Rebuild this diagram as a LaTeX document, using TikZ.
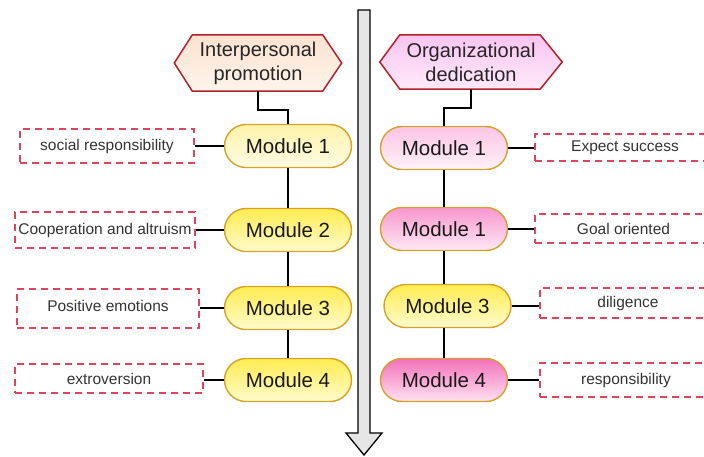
\documentclass[tikz,border=0pt]{standalone}
\usepackage{fontspec}
\setmainfont{Liberation Sans}
\usetikzlibrary{backgrounds}

\definecolor{hexline}{HTML}{B3202A}
\definecolor{pillline}{HTML}{D4A22A}
\definecolor{dashred}{HTML}{E0445C}
\definecolor{labeltext}{HTML}{333333}
\definecolor{arrowfill}{HTML}{E6E6E6}

\tikzset{
  pill/.style={rectangle, rounded corners=21.5pt, draw=pillline, line width=1.4pt,
    minimum width=127pt, minimum height=43pt, inner sep=0pt,
    font=\fontsize{20.5}{23}\selectfont, text=black!90},
  paleyellow/.style={pill, top color={rgb,255:red,255;green,242;blue,170}, bottom color={rgb,255:red,255;green,252;blue,228}},
  yellowpill/.style={pill, top color={rgb,255:red,255;green,236;blue,80}, bottom color={rgb,255:red,255;green,251;blue,205}},
  palepink/.style={pill, top color={rgb,255:red,251;green,196;blue,228}, bottom color={rgb,255:red,255;green,242;blue,249}},
  pinkpill/.style={pill, top color={rgb,255:red,248;green,150;blue,206}, bottom color={rgb,255:red,255;green,232;blue,244}},
  deeppink/.style={pill, top color={rgb,255:red,242;green,112;blue,186}, bottom color={rgb,255:red,255;green,226;blue,241}},
  dashbox/.style={rectangle, draw=dashred, line width=1.6pt, dash pattern=on 7pt off 5pt,
    inner sep=0pt, font=\fontsize{15.5}{18}\selectfont, text=labeltext},
  hexbox/.style={rectangle, inner sep=0pt, align=center,
    font=\fontsize{20}{24}\selectfont, text=black!85},
  link/.style={line width=2pt, black},
  hexedge/.style={draw=hexline, line width=1.5pt}
}

\begin{document}
\begin{tikzpicture}[x=1pt, y=-1pt]
\useasboundingbox (0,0) rectangle (704,456);
\clip (0,0) rectangle (704,456);

% central timeline arrow
\draw[fill=arrowfill, line width=1.3pt, line join=miter]
  (358,10) -- (370,10) -- (370,433) -- (382,433) -- (364,455)
  -- (346,433) -- (358,433) -- cycle;

% headings
\node[hexbox, minimum width=167pt, minimum height=56pt] (hl) at (258,63)
  {Interpersonal\\promotion};
\node[hexbox, minimum width=182pt, minimum height=54pt] (hr) at (471,62)
  {Organizational\\dedication};
\begin{scope}[on background layer]
  \path[hexedge, top color={rgb,255:red,252;green,226;blue,208}, bottom color={rgb,255:red,255;green,244;blue,236}]
    (hl.west) -- ([xshift=18pt]hl.north west) -- ([xshift=-19pt]hl.north east)
    -- (hl.east) -- ([xshift=-19pt]hl.south east) -- ([xshift=18pt]hl.south west) -- cycle;
  \path[hexedge, top color={rgb,255:red,248;green,196;blue,240}, bottom color={rgb,255:red,255;green,234;blue,250}]
    (hr.west) -- ([xshift=20pt]hr.north west) -- ([xshift=-22pt]hr.north east)
    -- (hr.east) -- ([xshift=-22pt]hr.south east) -- ([xshift=20pt]hr.south west) -- cycle;
\end{scope}

% left column modules
\node[paleyellow] (m1) at (288,146) {Module 1};
\node[yellowpill] (m2) at (288,230) {Module 2};
\node[yellowpill] (m3) at (288,308) {Module 3};
\node[yellowpill] (m4) at (288,380) {Module 4};

% right column modules
\node[palepink]   (r1) at (444,148) {Module 1};
\node[pinkpill]   (r2) at (444,229) {Module 1};
\node[yellowpill] (r3) at (447.5,306) {Module 3};
\node[deeppink]   (r4) at (444,380) {Module 4};

% left traits
\node[dashbox, minimum width=174pt, minimum height=34pt] (t1) at (107,146) {social responsibility};
\node[dashbox, minimum width=180pt, minimum height=36pt] (t2) at (105,230) {Cooperation and altruism};
\node[dashbox, minimum width=182pt, minimum height=39pt, text depth=6pt] (t3) at (108,308.5) {Positive emotions};
\node[dashbox, minimum width=188pt, minimum height=29pt] (t4) at (109,378.5) {extroversion};

% right traits
\node[dashbox, minimum width=180pt, minimum height=27pt] (u1) at (625,147.5) {Expect success};
\node[dashbox, minimum width=177pt, minimum height=29pt] (u2) at (623.5,228.5) {Goal oriented};
\node[dashbox, minimum width=176pt, minimum height=30pt] (u3) at (628,303) {diligence};
\node[dashbox, minimum width=172pt, minimum height=34pt] (u4) at (626,380) {responsibility};

% heading links
\draw[link] (hl.south) -- ++(0,19) -| (m1.north);
\draw[link] (hr.south) -- ++(0,19) -| (r1.north);

% module chains
\draw[link] (m1.south) -- (m2.north);
\draw[link] (m2.south) -- (m3.north);
\draw[link] (m3.south) -- (m4.north);
\draw[link] (r1.south) -- (r2.north);
\draw[link] (r2.south) -- (r2.south |- r3.north);
\draw[link] (r3.south -| r4.north) -- (r4.north);

% trait links
\draw[link] (t1.east |- m1.west) -- (m1.west);
\draw[link] (t2.east |- m2.west) -- (m2.west);
\draw[link] (t3.east |- m3.west) -- (m3.west);
\draw[link] (t4.east |- m4.west) -- (m4.west);
\draw[link] (r1.east) -- (u1.west |- r1.east);
\draw[link] (r2.east) -- (u2.west |- r2.east);
\draw[link] (r3.east) -- (u3.west |- r3.east);
\draw[link] (r4.east) -- (u4.west |- r4.east);
\end{tikzpicture}
\end{document}
